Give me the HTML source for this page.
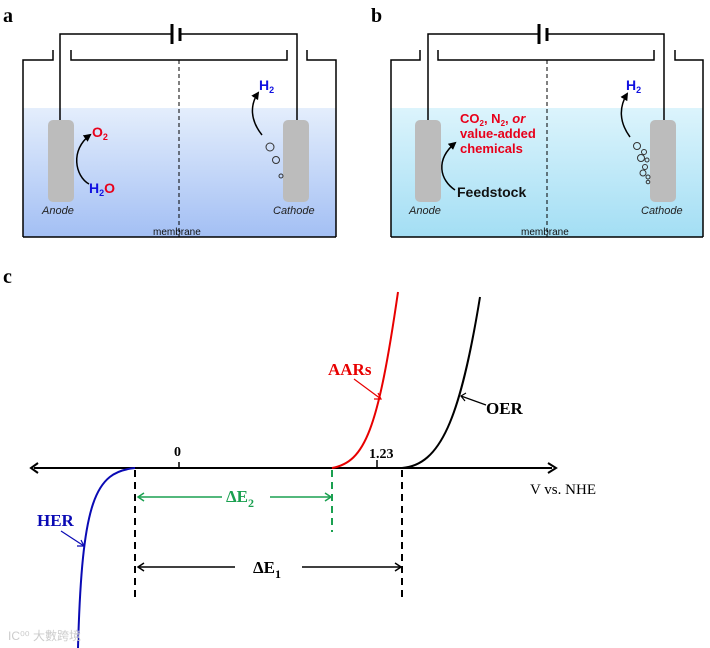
<!DOCTYPE html>
<html><head><meta charset="utf-8"><style>
html,body{margin:0;padding:0;background:#fff;}
svg{display:block;}
.sans{font-family:"Liberation Sans",sans-serif;}
.serif{font-family:"Liberation Serif",serif;}
</style></head><body>
<svg width="710" height="648" viewBox="0 0 710 648" xmlns="http://www.w3.org/2000/svg">
<defs>
<linearGradient id="ga" x1="0" y1="0" x2="0" y2="1"><stop offset="0" stop-color="#e4eefc"/><stop offset="1" stop-color="#a3bff4"/></linearGradient>
<linearGradient id="gb" x1="0" y1="0" x2="0" y2="1"><stop offset="0" stop-color="#dcf4fc"/><stop offset="1" stop-color="#a3def4"/></linearGradient>
<marker id="ah" markerWidth="8" markerHeight="8" refX="6" refY="4" orient="auto" markerUnits="userSpaceOnUse"><path d="M0,0 L8,4 L0,8 Z" fill="#000"/></marker>
</defs>
<g class="serif" font-weight="bold" font-size="20">
<text x="3" y="22">a</text><text x="371" y="22">b</text><text x="3" y="283">c</text></g>

<!-- Panel a -->
<rect x="23" y="108" width="313" height="129" fill="url(#ga)"/>
<g fill="none" stroke="#000" stroke-width="1.5">
<path d="M23,237 V60 H53 V50"/><path d="M336,237 V60 H307 V50"/><path d="M23,237 H336"/>
<path d="M71,50 V60 H287 V50"/>
<path d="M60,120 V34 H172"/><path d="M180,34 H297 V120"/>
</g>
<line x1="172" y1="24" x2="172" y2="44" stroke="#000" stroke-width="3"/>
<line x1="180" y1="28" x2="180" y2="41" stroke="#000" stroke-width="3"/>
<line x1="179" y1="60" x2="179" y2="237" stroke="#000" stroke-width="1" stroke-dasharray="4,3"/>
<rect x="48" y="120" width="26" height="82" rx="5" fill="#bcbcbc"/>
<rect x="283" y="120" width="26" height="82" rx="5" fill="#bcbcbc"/>
<path d="M89,184 C75,176 70,150 90,135" fill="none" stroke="#000" stroke-width="1.5" marker-end="url(#ah)"/>
<path d="M262,135 C250,120 250,105 258,93" fill="none" stroke="#000" stroke-width="1.5" marker-end="url(#ah)"/>
<g fill="none" stroke="#333" stroke-width="1"><circle cx="270" cy="147" r="4"/><circle cx="276" cy="160" r="3.5"/><circle cx="281" cy="176" r="2"/></g>
<g class="sans" font-weight="bold" font-size="14">
<text x="92" y="137" fill="#e8001a">O<tspan font-size="9" dy="3">2</tspan></text>
<text x="89" y="193" fill="#1010e0">H<tspan font-size="9" dy="3">2</tspan><tspan dy="-3" fill="#e8001a">O</tspan></text>
<text x="259" y="90" fill="#1010e0">H<tspan font-size="9" dy="3">2</tspan></text>
</g>
<g class="sans" font-size="11" font-style="italic" fill="#222"><text x="42" y="214">Anode</text><text x="273" y="214">Cathode</text></g>
<text x="153" y="235" class="sans" font-size="10" fill="#111">membrane</text>

<!-- Panel b -->
<rect x="391" y="108" width="312" height="129" fill="url(#gb)"/>
<g fill="none" stroke="#000" stroke-width="1.5">
<path d="M391,237 V60 H420 V50"/><path d="M703,237 V60 H675 V50"/><path d="M391,237 H703"/>
<path d="M438,50 V60 H654 V50"/>
<path d="M428,120 V34 H539"/><path d="M547,34 H664 V120"/>
</g>
<line x1="539" y1="24" x2="539" y2="44" stroke="#000" stroke-width="3"/>
<line x1="547" y1="28" x2="547" y2="41" stroke="#000" stroke-width="3"/>
<line x1="547" y1="60" x2="547" y2="237" stroke="#000" stroke-width="1" stroke-dasharray="4,3"/>
<rect x="415" y="120" width="26" height="82" rx="5" fill="#bcbcbc"/>
<rect x="650" y="120" width="26" height="82" rx="5" fill="#bcbcbc"/>
<path d="M455,190 C440,180 435,160 455,143" fill="none" stroke="#000" stroke-width="1.5" marker-end="url(#ah)"/>
<path d="M630,137 C619,122 619,107 627,94" fill="none" stroke="#000" stroke-width="1.5" marker-end="url(#ah)"/>
<g fill="none" stroke="#333" stroke-width="1"><circle cx="637" cy="146" r="3.5"/><circle cx="644" cy="152" r="2.5"/><circle cx="641" cy="158" r="3.5"/><circle cx="647" cy="160" r="2"/><circle cx="645" cy="167" r="2.5"/><circle cx="643" cy="173" r="3"/><circle cx="648" cy="177" r="2"/><circle cx="648" cy="182" r="1.8"/></g>
<g class="sans" font-weight="bold" font-size="13" fill="#e8001a">
<text x="460" y="123">CO<tspan font-size="8" dy="3">2</tspan><tspan dy="-3">, N</tspan><tspan font-size="8" dy="3">2</tspan><tspan dy="-3">, </tspan><tspan font-style="italic">or</tspan></text>
<text x="460" y="138">value-added</text><text x="460" y="153">chemicals</text></g>
<text x="457" y="197" class="sans" font-weight="bold" font-size="14" fill="#111">Feedstock</text>
<text x="626" y="90" class="sans" font-weight="bold" font-size="14" fill="#1010e0">H<tspan font-size="9" dy="3">2</tspan></text>
<g class="sans" font-size="11" font-style="italic" fill="#222"><text x="409" y="214">Anode</text><text x="641" y="214">Cathode</text></g>
<text x="521" y="235" class="sans" font-size="10" fill="#111">membrane</text>

<!-- Panel c -->
<line x1="34" y1="468" x2="552" y2="468" stroke="#000" stroke-width="2"/>
<path d="M38,463 L31,468 L38,473" fill="none" stroke="#000" stroke-width="2"/>
<path d="M548,463 L556,468 L548,473" fill="none" stroke="#000" stroke-width="2"/>
<line x1="179" y1="462" x2="179" y2="468" stroke="#000" stroke-width="1.5"/>
<line x1="377" y1="460" x2="377" y2="468" stroke="#000" stroke-width="1.5"/>
<g class="serif" font-weight="bold" font-size="14"><text x="174" y="456">0</text><text x="369" y="458">1.23</text></g>
<text x="530" y="494" class="serif" font-size="15">V  vs. NHE</text>
<path d="M135,468 C95,472 82,500 78,648" fill="none" stroke="#0a0ab4" stroke-width="2"/>
<path d="M332,468 C365,462 378,430 398,292" fill="none" stroke="#e80000" stroke-width="2"/>
<path d="M402,468 C440,465 460,420 480,297" fill="none" stroke="#000" stroke-width="2"/>
<line x1="135" y1="470" x2="135" y2="600" stroke="#000" stroke-width="2" stroke-dasharray="7,5"/>
<line x1="402" y1="470" x2="402" y2="600" stroke="#000" stroke-width="2" stroke-dasharray="7,5"/>
<line x1="332" y1="470" x2="332" y2="532" stroke="#1aa050" stroke-width="2" stroke-dasharray="7,5"/>
<g stroke="#1aa050" stroke-width="1.5" fill="none"><path d="M138,497 H222 M270,497 H331"/><path d="M144,493 L138,497 L144,501"/><path d="M325,493 L331,497 L325,501"/></g>
<text x="226" y="502" class="serif" font-weight="bold" font-size="17" fill="#1aa050">ΔE<tspan font-size="12" dy="5">2</tspan></text>
<g stroke="#000" stroke-width="1.5" fill="none"><path d="M138,567 H235 M302,567 H401"/><path d="M144,563 L138,567 L144,571"/><path d="M395,563 L401,567 L395,571"/></g>
<text x="253" y="573" class="serif" font-weight="bold" font-size="17">ΔE<tspan font-size="12" dy="5">1</tspan></text>
<text x="37" y="526" class="serif" font-weight="bold" font-size="17" fill="#0a0ab4">HER</text>
<g stroke="#0a0ab4" stroke-width="1.2" fill="none"><path d="M61,531 L84,546"/><path d="M77,546 L84,546 L81,540"/></g>
<text x="328" y="375" class="serif" font-weight="bold" font-size="17" fill="#e80000">AARs</text>
<g stroke="#e80000" stroke-width="1.2" fill="none"><path d="M354,379 L381,399"/><path d="M374,399 L381,399 L378,393"/></g>
<text x="486" y="414" class="serif" font-weight="bold" font-size="17">OER</text>
<g stroke="#000" stroke-width="1.2" fill="none"><path d="M486,405 L461,396"/><path d="M466,393 L461,396 L465,401"/></g>
<text x="8" y="640" class="sans" font-size="12" fill="#ccc">IC⁰⁰ 大數跨境</text>
</svg>
</body></html>
